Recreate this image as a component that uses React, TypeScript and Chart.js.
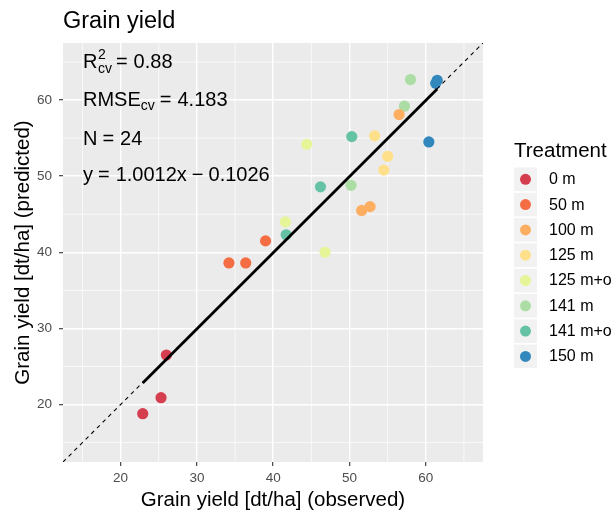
import React, { useEffect, useRef } from "react";
import { Chart, registerables } from "chart.js";

Chart.register(...registerables);

// Treatments and their colours (Spectral palette)
const treatments = ["0 m", "50 m", "100 m", "125 m", "125 m+o", "141 m", "141 m+o", "150 m"];
const colors = ["#D53E4F", "#F46D43", "#FDAE61", "#FEE08B", "#E6F598", "#ABDDA4", "#66C2A5", "#3288BD"];

// Observed grain yield [dt/ha], one row per treatment
const observed = [
  [22.9, 25.3, 26.0],
  [34.2, 36.4, 39.0],
  [51.6, 52.7, 56.5],
  [53.3, 54.5, 55.0],
  [41.6, 44.4, 46.8],
  [50.2, 57.2, 58.0],
  [41.7, 46.2, 50.3],
  [60.4, 61.3, 61.5],
];

// Cross-validated predicted grain yield [dt/ha]
const predicted = [
  [18.8, 20.9, 26.5],
  [38.6, 38.6, 41.5],
  [45.5, 46.0, 58.1],
  [55.3, 50.8, 52.6],
  [44.0, 54.2, 40.0],
  [48.8, 59.2, 62.7],
  [42.3, 48.6, 55.2],
  [54.5, 62.2, 62.6],
];

// Fit statistics
const slope = 1.0012;
const intercept = -0.1026;
const r2cv = "0.88";
const rmsecv = "4.183";
const nObs = 24;

// Axis range and ticks
const axisMin = 12.45;
const axisMax = 67.5;
const majorTicks = [20, 30, 40, 50, 60];
const minorTicks = [15, 25, 35, 45, 55, 65];

const FONT = "'Liberation Sans', Arial, Helvetica, sans-serif";

type Run = { text: string; size: number; dy?: number; gap?: number };

function drawRuns(ctx: CanvasRenderingContext2D, x: number, y: number, runs: Run[]) {
  let cx = x;
  for (const r of runs) {
    cx += r.gap ?? 0;
    ctx.font = `${r.size}px ${FONT}`;
    ctx.fillText(r.text, cx, y + (r.dy ?? 0));
    cx += ctx.measureText(r.text).width;
  }
  return cx;
}

const decorPlugin = {
  id: "decor",
  beforeDraw(chart: any) {
    const { ctx, chartArea: a } = chart;
    ctx.save();
    ctx.fillStyle = "#EBEBEB";
    ctx.fillRect(a.left, a.top, a.right - a.left, a.bottom - a.top);
    // minor grid
    const xs = chart.scales.x;
    const ys = chart.scales.y;
    ctx.strokeStyle = "#FFFFFF";
    ctx.lineWidth = 0.7;
    for (const v of minorTicks) {
      const px = xs.getPixelForValue(v);
      ctx.beginPath();
      ctx.moveTo(px, a.top);
      ctx.lineTo(px, a.bottom);
      ctx.stroke();
      const py = ys.getPixelForValue(v);
      ctx.beginPath();
      ctx.moveTo(a.left, py);
      ctx.lineTo(a.right, py);
      ctx.stroke();
    }
    ctx.restore();
  },
  afterDraw(chart: any) {
    const { ctx, chartArea: a } = chart;
    ctx.save();
    ctx.fillStyle = "#000000";
    ctx.textBaseline = "alphabetic";
    ctx.textAlign = "left";

    // Title
    ctx.font = `23.5px ${FONT}`;
    ctx.fillText("Grain yield", a.left, 28);

    // Axis titles
    ctx.textAlign = "center";
    ctx.font = `20.5px ${FONT}`;
    ctx.fillText("Grain yield [dt/ha] (observed)", (a.left + a.right) / 2, 506);
    ctx.save();
    ctx.translate(29, (a.top + a.bottom) / 2);
    ctx.rotate(-Math.PI / 2);
    ctx.fillText("Grain yield [dt/ha] (predicted)", 0, 0);
    ctx.restore();

    // Fit statistics
    ctx.textAlign = "left";
    const tx = a.left + 20;
    const big = 20;
    const small = 14;
    // R^2_cv
    ctx.font = `${big}px ${FONT}`;
    const rW = ctx.measureText("R").width;
    drawRuns(ctx, tx, a.top + 25, [{ text: "R", size: big }]);
    drawRuns(ctx, tx + rW + 0.5, a.top + 25, [{ text: "2", size: small, dy: -9 }]);
    const ex = drawRuns(ctx, tx + rW + 0.5, a.top + 25, [{ text: "cv", size: small, dy: 5 }]);
    drawRuns(ctx, ex, a.top + 25, [
      { text: "=", size: big, gap: 4 },
      { text: r2cv, size: big, gap: 6 },
    ]);
    // RMSE_cv
    drawRuns(ctx, tx, a.top + 63, [
      { text: "RMSE", size: big },
      { text: "cv", size: small, dy: 4 },
      { text: "=", size: big, gap: 5 },
      { text: rmsecv, size: big, gap: 6 },
    ]);
    // N
    drawRuns(ctx, tx, a.top + 102, [
      { text: "N", size: big },
      { text: "=", size: big, gap: 5 },
      { text: String(nObs), size: big, gap: 6 },
    ]);
    // Regression equation
    const sign = intercept < 0 ? "\u2212" : "+";
    drawRuns(ctx, tx, a.top + 138, [
      { text: "y", size: big },
      { text: "=", size: big, gap: 5 },
      { text: `${slope.toFixed(4)}x`, size: big, gap: 6 },
      { text: sign, size: big, gap: 5 },
      { text: Math.abs(intercept).toFixed(4), size: big, gap: 5 },
    ]);

    // Legend
    const lx = 514;
    ctx.font = `20.5px ${FONT}`;
    ctx.fillText("Treatment", lx, 157);
    ctx.font = `16px ${FONT}`;
    ctx.textBaseline = "middle";
    treatments.forEach((t, i) => {
      const cy = 179.3 + i * 25.3;
      ctx.fillStyle = "#F2F2F2";
      ctx.fillRect(lx, cy - 11.8, 23, 23.6);
      ctx.fillStyle = colors[i];
      ctx.beginPath();
      ctx.arc(lx + 11.5, cy, 5.5, 0, Math.PI * 2);
      ctx.fill();
      ctx.fillStyle = "#000000";
      ctx.fillText(t, lx + 35, cy + 0.5);
    });
    ctx.restore();
  },
};

export default function App() {
  const ref = useRef<HTMLCanvasElement | null>(null);

  useEffect(() => {
    if (!ref.current) return;
    const obsAll = observed.flat();
    const xLo = Math.min(...obsAll);
    const xHi = Math.max(...obsAll);

    const pointSets = treatments.map((t, i) => ({
      label: t,
      data: observed[i].map((x, j) => ({ x, y: predicted[i][j] })),
      backgroundColor: colors[i],
      borderWidth: 0,
      pointRadius: 5.6,
      showLine: false,
      order: 0,
    }));

    const chart = new Chart(ref.current, {
      type: "scatter",
      data: {
        datasets: [
          ...pointSets,
          {
            label: "fit",
            data: [
              { x: xLo, y: slope * xLo + intercept },
              { x: xHi, y: slope * xHi + intercept },
            ],
            showLine: true,
            borderColor: "#000000",
            borderWidth: 2.8,
            pointRadius: 0,
            order: -2,
          } as any,
          {
            label: "1:1",
            data: [
              { x: axisMin, y: axisMin },
              { x: axisMax, y: axisMax },
            ],
            showLine: true,
            borderColor: "#000000",
            borderWidth: 1.1,
            borderDash: [4, 4],
            pointRadius: 0,
            order: -1,
          } as any,
        ],
      },
      options: {
        responsive: false,
        animation: false,
        layout: { padding: { top: 43, right: 128, left: 0, bottom: 0 } },
        plugins: { legend: { display: false }, tooltip: { enabled: false }, title: { display: false } },
        scales: {
          x: {
            type: "linear",
            min: axisMin,
            max: axisMax,
            afterBuildTicks: (s: any) => {
              s.ticks = majorTicks.map((v) => ({ value: v }));
            },
            afterFit: (s: any) => {
              s.height = 51;
            },
            grid: { color: "#FFFFFF", lineWidth: 1.4, tickColor: "#333333", tickLength: 4, tickWidth: 1.1 },
            border: { display: false },
            ticks: {
              color: "#4D4D4D",
              font: { family: FONT, size: 13.5 },
              padding: 4,
              maxRotation: 0,
              autoSkip: false,
              callback: (v: any) => String(v),
            },
          },
          y: {
            type: "linear",
            min: axisMin,
            max: axisMax,
            afterBuildTicks: (s: any) => {
              s.ticks = majorTicks.map((v) => ({ value: v }));
            },
            afterFit: (s: any) => {
              s.width = 63;
            },
            grid: { color: "#FFFFFF", lineWidth: 1.4, tickColor: "#333333", tickLength: 4, tickWidth: 1.1 },
            border: { display: false },
            ticks: {
              color: "#4D4D4D",
              font: { family: FONT, size: 13.5 },
              padding: 7,
              autoSkip: false,
              callback: (v: any) => String(v),
            },
          },
        },
      } as any,
      plugins: [decorPlugin],
    });

    return () => chart.destroy();
  }, []);

  return (
    <div style={{ position: "absolute", left: 0, top: 0, width: 611, height: 513, background: "#FFFFFF" }}>
      <canvas ref={ref} width={611} height={513} style={{ display: "block" }} />
    </div>
  );
}
